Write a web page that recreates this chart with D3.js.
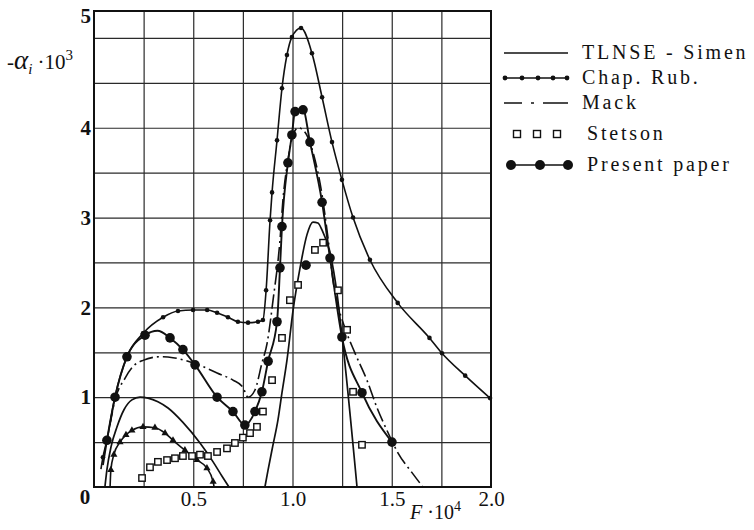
<!DOCTYPE html>
<html>
<head>
<meta charset="utf-8">
<script src="https://cdn.jsdelivr.net/npm/d3@7"></script>
<style>
body{margin:0;background:#fff}
svg text{font-family:"Liberation Serif","DejaVu Serif",serif;fill:#111}
</style>
</head>
<body>
<div id="chart"></div>
<script>

// TLNSE - Simen (two humps, plain line)
const tlnseF1 = [0.055,0.065,0.086,0.116,0.151,0.191,0.232,0.272,0.322,0.373,0.448,0.534,0.60,0.645,0.68]
const tlnseA1 = [0,0.19,0.45,0.67,0.86,0.97,1.0,0.99,0.95,0.88,0.72,0.49,0.28,0.12,0]
const tlnseF2 = [0.861,0.877,0.90,0.927,0.947,0.972,1.003,1.038,1.073,1.103,1.128,1.149,1.189,1.224,1.249,1.325]
const tlnseA2 = [0,0.19,0.45,0.75,1.05,1.41,1.97,2.44,2.81,2.95,2.94,2.86,2.61,2.16,1.69,0]

// Chapman - Rubesin (upper curve + lower curve)
const chapF1 = [0.035,0.045,0.065,0.105,0.166,0.247,0.348,0.423,0.499,0.57,0.62,0.675,0.725,0.776,0.826,0.851,0.867,0.887,0.897,0.922,0.947,0.972,0.997,1.043,1.098,1.149,1.199,1.249,1.305,1.39,1.53,1.69,1.753,1.87,1.995]
const chapA1 = [0.2,0.33,0.52,1.0,1.45,1.71,1.89,1.96,1.97,1.97,1.94,1.89,1.84,1.83,1.84,1.86,2.19,2.97,3.28,3.86,4.44,4.81,5.01,5.11,4.83,4.34,3.84,3.42,3.0,2.53,2.05,1.66,1.49,1.24,0.99]
const chapF2 = [0.081,0.085,0.1,0.131,0.161,0.191,0.247,0.307,0.358,0.398,0.458,0.519,0.569,0.60,0.605]
const chapA2 = [0,0.19,0.36,0.50,0.58,0.63,0.67,0.66,0.60,0.52,0.41,0.30,0.21,0.06,0]

// Mack (dash-dot)
const mackF = [0.08,0.106,0.156,0.196,0.247,0.332,0.398,0.458,0.549,0.62,0.70,0.75,0.776,0.811,0.846,0.872,0.902,0.937,0.952,0.977,1.003,1.028,1.063,1.103,1.149,1.18,1.204,1.234,1.264,1.315,1.375,1.426,1.476,1.531,1.602,1.657]
const mackA = [0.69,0.97,1.21,1.34,1.41,1.45,1.44,1.41,1.34,1.27,1.19,1.11,1.0,1.08,1.38,1.60,2.08,2.75,3.2,3.64,3.92,4.0,3.95,3.73,3.25,2.75,2.3,1.98,1.77,1.49,1.19,0.88,0.63,0.38,0.16,0]

// Stetson (open squares)
const stetF = [0.242,0.282,0.322,0.368,0.408,0.448,0.494,0.534,0.574,0.62,0.67,0.71,0.75,0.786,0.821,0.851,0.897,0.947,0.987,1.028,1.113,1.154,1.229,1.275,1.305,1.35]
const stetA = [0.10,0.22,0.28,0.30,0.32,0.345,0.345,0.36,0.345,0.39,0.43,0.49,0.55,0.60,0.67,0.84,1.19,1.66,2.08,2.25,2.64,2.72,2.19,1.75,1.06,0.47]

// Present paper (line + big dots)
const presF = [0.045,0.065,0.106,0.166,0.257,0.32,0.383,0.448,0.509,0.62,0.70,0.76,0.811,0.846,0.877,0.922,0.937,0.947,0.977,0.997,1.013,1.053,1.088,1.149,1.189,1.249,1.35,1.501]
const presA = [0.245,0.52,1.0,1.45,1.69,1.74,1.66,1.53,1.36,1.0,0.84,0.69,0.84,1.06,1.40,1.84,2.44,2.90,3.61,3.92,4.18,4.20,3.84,3.17,2.55,1.67,1.05,0.50]
const presDotF = [0.065,0.106,0.166,0.257,0.383,0.448,0.509,0.62,0.70,0.76,0.811,0.846,0.877,0.922,0.937,0.947,0.977,0.997,1.013,1.053,1.088,1.149,1.189,1.249,1.35,1.501,1.068]
const presDotA = [0.52,1.0,1.45,1.69,1.66,1.53,1.36,1.0,0.84,0.69,0.84,1.06,1.40,1.84,2.44,2.90,3.61,3.92,4.18,4.20,3.84,3.17,2.55,1.67,1.05,0.50,2.47]

// axis ticks
const xTickVals = [0.5,1.0,1.5,2.0]
const xTickLabels = ["0.5","1.0","1.5","2.0"]
const yTickVals = [1,2,3,4,5.25]
const yTickLabels = ["1","2","3","4","5"]
const xGrid = [0.25,0.5,0.75,1.0,1.25,1.5,1.75]
const yGrid = [0.5,1,1.5,2,2.5,3,3.5,4,4.5,5]

const legendLabels = ["TLNSE - Simen","Chap. Rub.","Mack","Stetson","Present paper"]

// ****************** Plotting Part ************************

const width = 754, height = 530
const margin = {left:94, right:263, top:11, bottom:43}

const svg = d3.select("#chart")
  .append("svg")
    .attr("width", width)
    .attr("height", height)

const x = d3.scaleLinear().domain([0,2]).range([margin.left, width-margin.right])
const y = d3.scaleLinear().domain([0,5.3]).range([height-margin.bottom, margin.top])

// grid lines
svg.append("g")
  .attr("transform", `translate(0,${height-margin.bottom})`)
  .call(d3.axisBottom(x).tickValues(xGrid).tickSize(-(height-margin.bottom-margin.top)).tickFormat(""))
  .call(g => g.select(".domain").remove())
  .selectAll("line").attr("stroke","#2a2a2a").attr("stroke-width",1.2)

svg.append("g")
  .attr("transform", `translate(${margin.left},0)`)
  .call(d3.axisLeft(y).tickValues(yGrid).tickSize(-(width-margin.right-margin.left)).tickFormat(""))
  .call(g => g.select(".domain").remove())
  .selectAll("line").attr("stroke","#2a2a2a").attr("stroke-width",1.2)

// frame
svg.append("rect")
  .attr("x", x(0)).attr("y", y(5.3))
  .attr("width", x(2)-x(0)).attr("height", y(0)-y(5.3))
  .attr("fill","none").attr("stroke","#111").attr("stroke-width",2)

// tick labels
svg.append("g")
  .attr("transform", `translate(0,${height-margin.bottom})`)
  .call(d3.axisBottom(x).tickValues(xTickVals).tickSize(0).tickPadding(4).tickFormat((d,i)=>xTickLabels[i]))
  .call(g => g.select(".domain").remove())
  .selectAll("text").style("font-size","21px")

svg.append("g")
  .attr("transform", `translate(${margin.left},0)`)
  .call(d3.axisLeft(y).tickValues(yTickVals).tickSize(0).tickPadding(3).tickFormat((d,i)=>yTickLabels[i]))
  .call(g => g.select(".domain").remove())
  .selectAll("text").style("font-size","21px").style("font-weight","bold")

svg.append("text")
  .attr("x", x(0)-9).attr("y", y(0)+17)
  .attr("text-anchor","middle")
  .style("font-size","21px")
  .style("font-weight","bold")
  .text("0")

// axis titles
const xt = svg.append("text").attr("x",410).attr("y",519).style("font-size","20px")
xt.append("tspan").style("font-style","italic").text("F")
xt.append("tspan").text(" \u00b710")
xt.append("tspan").attr("dy",-8).style("font-size","14px").text("4")

const yt = svg.append("text").attr("x",7).attr("y",69).style("font-size","21px")
yt.append("tspan").text("-")
yt.append("tspan").style("font-style","italic").style("font-size","27px").text("\u03b1")
yt.append("tspan").attr("dy",5).style("font-style","italic").style("font-size","15px").text("i")
yt.append("tspan").attr("dy",-5).text(" \u00b710")
yt.append("tspan").attr("dy",-9).style("font-size","15px").text("3")

// curves
function pts(fs, as){ return fs.map((f,i)=>[f, as[i]]) }

const line = d3.line()
  .x(d=>x(d[0]))
  .y(d=>y(d[1]))
  .curve(d3.curveMonotoneX)

const curves = [
  {p: pts(tlnseF1,tlnseA1), dash: null, w: 1.7},
  {p: pts(tlnseF2,tlnseA2), dash: null, w: 1.7},
  {p: pts(chapF1,chapA1), dash: null, w: 1.6},
  {p: pts(chapF2,chapA2), dash: null, w: 1.6},
  {p: pts(mackF,mackA), dash: "14,4,2,4", w: 1.6},
  {p: pts(presF,presA), dash: null, w: 1.9}
]

svg.selectAll("path.curve")
  .data(curves)
  .join("path")
    .attr("class","curve")
    .attr("d", d=>line(d.p))
    .attr("fill","none")
    .attr("stroke","#111")
    .attr("stroke-width", d=>d.w)
    .attr("stroke-dasharray", d=>d.dash)

// Chap. Rub. markers
svg.selectAll("circle.chap")
  .data(pts(chapF1,chapA1).slice(1))
  .join("circle")
    .attr("class","chap")
    .attr("cx", d=>x(d[0])).attr("cy", d=>y(d[1]))
    .attr("r", 2.3).attr("fill","#111")

svg.selectAll("path.tri")
  .data(pts(chapF2,chapA2).slice(1,-1))
  .join("path")
    .attr("class","tri")
    .attr("transform", d=>`translate(${x(d[0])},${y(d[1])})`)
    .attr("d", d3.symbol().type(d3.symbolTriangle).size(22))
    .attr("fill","#111")

// Stetson squares
svg.selectAll("rect.stet")
  .data(pts(stetF,stetA))
  .join("rect")
    .attr("class","stet")
    .attr("x", d=>x(d[0])-3.2).attr("y", d=>y(d[1])-3.2)
    .attr("width",6.4).attr("height",6.4)
    .attr("fill","#fff").attr("stroke","#111").attr("stroke-width",1.4)

// Present paper dots
svg.selectAll("circle.pres")
  .data(pts(presDotF,presDotA))
  .join("circle")
    .attr("class","pres")
    .attr("cx", d=>x(d[0])).attr("cy", d=>y(d[1]))
    .attr("r", 4.8).attr("fill","#111")

// adding legend
const legY = [53,78,103,134,165]
const lx0 = 504, lx1 = 568

const leg = svg.append("g")

leg.append("line").attr("x1",lx0).attr("x2",lx1).attr("y1",legY[0]).attr("y2",legY[0])
  .attr("stroke","#111").attr("stroke-width",1.7)

leg.append("line").attr("x1",lx0).attr("x2",lx1).attr("y1",legY[1]).attr("y2",legY[1])
  .attr("stroke","#111").attr("stroke-width",1.4)
leg.selectAll("circle.lchap")
  .data([505,522,538,553,567])
  .join("circle").attr("class","lchap")
    .attr("cx",d=>d).attr("cy",legY[1]).attr("r",2.4).attr("fill","#111")

leg.append("line").attr("x1",lx0).attr("x2",lx1).attr("y1",legY[2]).attr("y2",legY[2])
  .attr("stroke","#111").attr("stroke-width",1.6)
  .attr("stroke-dasharray","18,9,3,9,30")

leg.selectAll("rect.lstet")
  .data([517,537,557])
  .join("rect").attr("class","lstet")
    .attr("x",d=>d-3.5).attr("y",legY[3]-3.5).attr("width",7).attr("height",7)
    .attr("fill","#fff").attr("stroke","#111").attr("stroke-width",1.4)

leg.append("line").attr("x1",lx0+6).attr("x2",lx1).attr("y1",legY[4]).attr("y2",legY[4])
  .attr("stroke","#111").attr("stroke-width",1.6)
leg.selectAll("circle.lpres")
  .data([511,540,568])
  .join("circle").attr("class","lpres")
    .attr("cx",d=>d).attr("cy",legY[4]).attr("r",5).attr("fill","#111")

leg.selectAll("text")
  .data(legendLabels)
  .join("text")
    .attr("x",(d,i)=> i<3 ? 582 : 587)
    .attr("y",(d,i)=>legY[i]+6)
    .style("font-size","20px")
    .style("letter-spacing","2.8px")
    .text(d=>d)
</script>
</body>
</html>
